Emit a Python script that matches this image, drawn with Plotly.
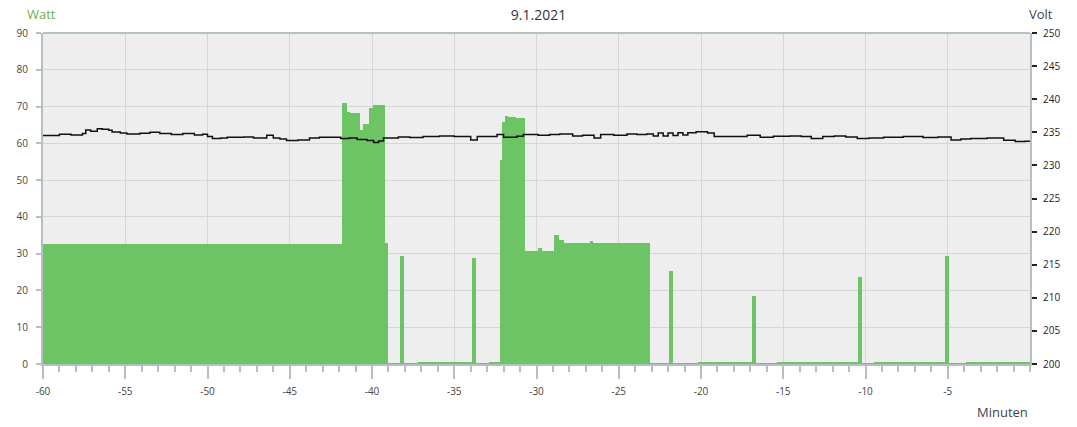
import plotly.graph_objects as go

# ---- data ----
watt_t = [-60, -41.81, -41.51, -41.33, -40.72, -40.54, -40.17, -39.93, -39.20, -39.01,
          -38.28, -38.04, -37.2, -36.9, -36.4, -35.6, -33.90, -33.66, -32.9, -32.24,
          -32.08, -31.90, -31.76, -31.23, -30.68, -29.93, -29.67, -28.92, -28.66, -28.35,
          -26.73, -26.55, -23.12, -21.92, -21.68, -20.2, -19.3, -18.8, -16.87, -16.63,
          -15.4, -14.5, -12.8, -12.6, -10.43, -10.19, -9.5, -5.19, -4.95, -3.9, -0.6]
watt_v = [32.5, 71.0, 68.6, 68.2, 63.6, 65.3, 69.6, 70.5, 33.0, 0.2,
          29.5, 0.2, 0.4, 0.6, 0.3, 0.4, 28.8, 0.2, 0.4, 55.6,
          65.8, 67.3, 67.2, 67.0, 30.8, 31.5, 30.8, 35.2, 33.6, 32.9,
          33.4, 32.9, 0.2, 25.3, 0.2, 0.5, 0.3, 0.3, 18.6, 0.2,
          0.4, 0.3, 0.6, 0.3, 23.7, 0.2, 0.4, 29.4, 0.2, 0.4, 0.5]
watt_end = 0

volt_t = [-60, -59.0, -58.3, -57.6, -57.4, -57.1, -56.7, -56.4, -56.0, -55.8,
          -55.3, -54.9, -54.1, -53.5, -52.9, -52.2, -51.5, -50.8, -50.3, -50.0,
          -49.7, -49.2, -48.8, -47.8, -47.2, -46.4, -46.0, -45.6, -45.2, -44.5,
          -43.8, -43.2, -41.9, -41.4, -40.9, -40.3, -39.9, -39.6, -39.3, -38.4,
          -37.7, -36.9, -35.9, -35.0, -34.0, -33.6, -32.4, -32.0, -31.2, -30.8,
          -29.9, -29.2, -28.6, -27.8, -27.2, -26.5, -26.1, -25.3, -24.5, -23.9,
          -23.3, -22.9, -22.6, -22.3, -22.0, -21.7, -21.4, -21.1, -20.8, -20.3,
          -19.6, -19.2, -17.2, -16.4, -15.6, -14.6, -13.9, -13.3, -12.6, -11.9,
          -11.2, -10.5, -9.8, -8.9, -7.7, -6.5, -5.6, -4.8, -4.2, -3.6,
          -2.6, -1.6, -0.9, -0.3, 0]
volt_v = [234.5, 234.7, 234.6, 234.8, 235.35, 235.15, 235.55, 235.45, 235.3, 235.05,
          234.9, 234.75, 234.85, 235.0, 234.8, 234.65, 234.8, 234.6, 234.7, 234.35,
          234.05, 234.15, 234.25, 234.3, 234.15, 234.55, 234.15, 234.0, 233.75, 233.85,
          234.15, 234.25, 234.05, 234.15, 233.9, 233.75, 233.45, 233.7, 234.15, 234.3,
          234.2, 234.35, 234.45, 234.35, 233.85, 234.35, 234.65, 234.25, 234.4, 234.65,
          234.55, 234.65, 234.75, 234.45, 234.55, 234.15, 234.65, 234.55, 234.75, 234.65,
          234.75, 234.45, 234.9, 234.45, 234.9, 234.5, 234.95, 234.6, 234.95, 235.1,
          234.9, 234.35, 234.55, 234.25, 234.4, 234.45, 234.35, 234.05, 234.35, 234.45,
          234.3, 234.05, 234.15, 234.25, 234.35, 234.2, 234.3, 233.85, 234.0, 234.05,
          234.15, 233.8, 233.6, 233.65, 233.65]

x_ticks = [-60, -55, -50, -45, -40, -35, -30, -25, -20, -15, -10, -5]
title_text = "9.1.2021"

# ---- figure ----
widths = [b - a for a, b in zip(watt_t, watt_t[1:] + [watt_end])]

GREEN = "#6cc464"
AXIS = "#b3c1c3"
FONT = "Open Sans"

fig = go.Figure()
fig.add_trace(go.Bar(x=watt_t, y=watt_v, width=widths, offset=0,
                     marker=dict(color=GREEN, line=dict(width=0)),
                     yaxis="y", showlegend=False, hoverinfo="skip"))
fig.add_trace(go.Scatter(x=volt_t, y=volt_v, mode="lines",
                         line=dict(color="#111111", width=1.5, shape="hv"),
                         yaxis="y2", showlegend=False, hoverinfo="skip"))

fig.update_layout(
    width=1077, height=427,
    margin=dict(l=43, r=47, t=33, b=63),
    paper_bgcolor="white", plot_bgcolor="#eeeeee",
    font=dict(family=FONT, size=10, color="#555555"),
    title=dict(text=title_text, x=0.5, xanchor="center", y=0.965, yanchor="middle",
               font=dict(family=FONT, size=14, color="#333333")),
    bargap=0,
    xaxis=dict(range=[-60, 0], tickvals=x_ticks, ticktext=[str(v) for v in x_ticks],
               showgrid=True, gridcolor="#d6d6d6", gridwidth=1,
               showline=True, linecolor=AXIS, linewidth=2,
               ticks="outside", ticklen=13, tickcolor=AXIS, tickwidth=2,
               minor=dict(dtick=1, ticks="outside", ticklen=6, tickcolor=AXIS, tickwidth=1.5,
                          showgrid=False),
               zeroline=False, ticklabelstandoff=4,
               tickfont=dict(size=10, color="#444444")),
    yaxis=dict(range=[0, 90], dtick=10, showgrid=True, gridcolor="#d6d6d6", gridwidth=1,
               showline=True, linecolor=AXIS, linewidth=2, mirror=False,
               ticks="outside", ticklen=5, tickcolor=AXIS, tickwidth=1.5,
               zeroline=False, ticklabelstandoff=6,
               tickfont=dict(size=10, color="#444444")),
    yaxis2=dict(range=[200, 250], dtick=5, overlaying="y", side="right",
                showgrid=False, showline=True, linecolor=AXIS, linewidth=2,
                ticks="outside", ticklen=5, tickcolor="#222222", tickwidth=1.5,
                zeroline=False, ticklabelstandoff=4,
                tickfont=dict(size=10, color="#222222")),
)

# top border line
fig.add_shape(type="line", xref="paper", yref="paper", x0=0, x1=1, y0=1, y1=1,
              line=dict(color=AXIS, width=2), layer="above")

fig.add_annotation(text="Watt", xref="paper", yref="paper", x=-0.018, y=1.0, yshift=19,
                   xanchor="left", yanchor="middle", showarrow=False,
                   font=dict(family=FONT, size=13, color="#6ab04c"))
fig.add_annotation(text="Volt", xref="paper", yref="paper", x=1.0, y=1.0, yshift=19, xshift=-3,
                   xanchor="left", yanchor="middle", showarrow=False,
                   font=dict(family=FONT, size=13, color="#444444"))
fig.add_annotation(text="Minuten", xref="paper", yref="paper", x=1.0, y=0, yshift=-48,
                   xanchor="right", yanchor="middle", showarrow=False,
                   font=dict(family=FONT, size=13, color="#444444"))

# remove the default 8px page margin so the figure fills the window exactly
fig.write_html("out.html", config={"displayModeBar": False},
               post_script="document.body.style.margin='0';document.body.style.padding='0';")
